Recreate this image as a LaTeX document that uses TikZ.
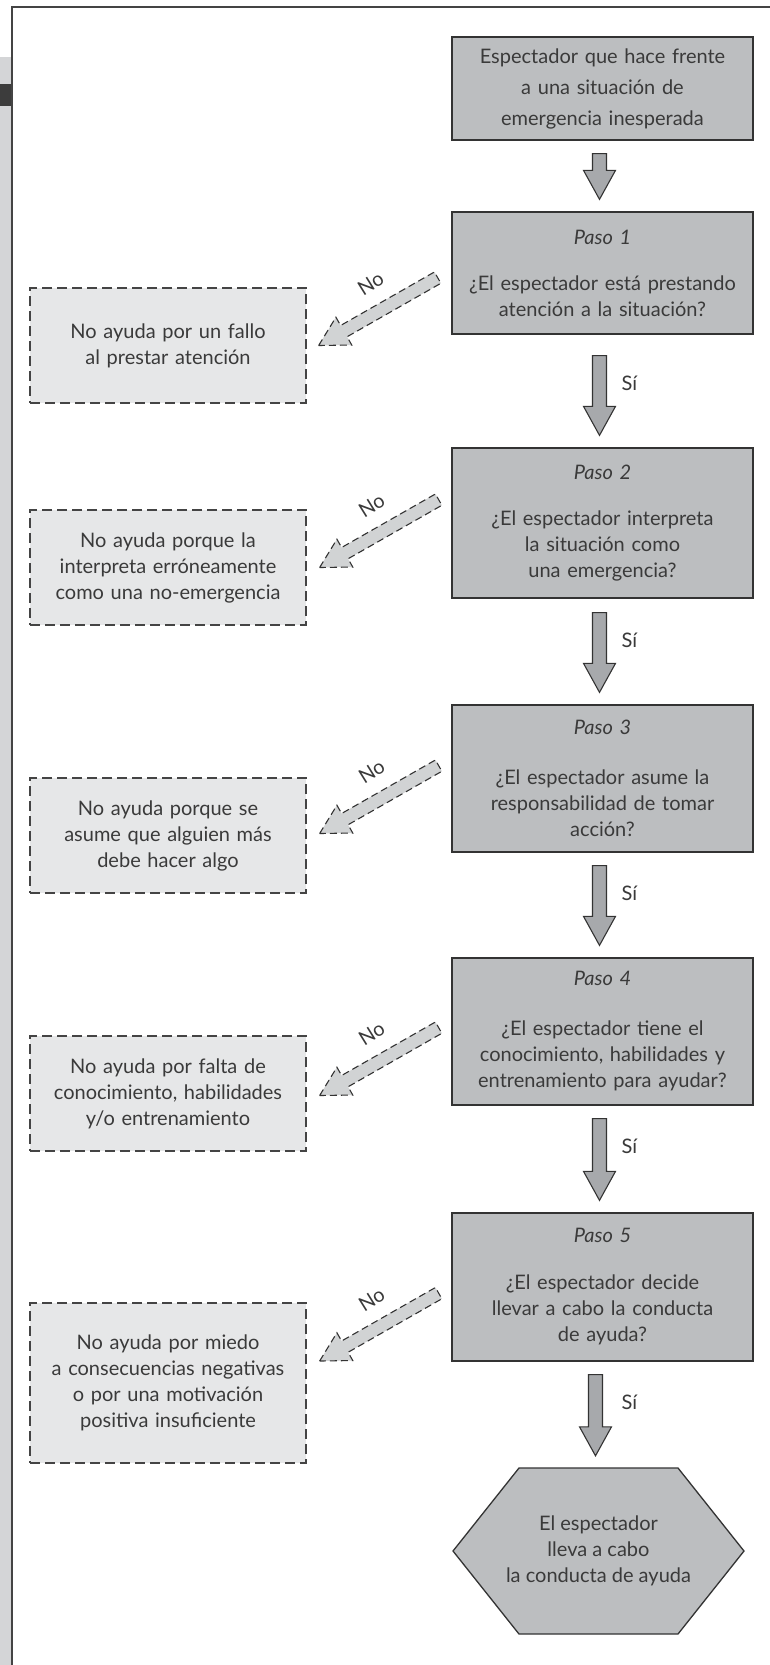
\documentclass[tikz,border=0pt]{standalone}
\usepackage{graphicx}
\usepackage{fontspec}
\setmainfont{Lato}
\usetikzlibrary{calc}
\definecolor{boxgray}{HTML}{BCBEC0}
\definecolor{edge}{HTML}{333333}
\definecolor{lightbox}{HTML}{E6E7E8}
\definecolor{noarrowfill}{HTML}{D1D3D4}
\definecolor{downfill}{HTML}{A7A9AC}
\definecolor{txt}{HTML}{3A3A3A}
\definecolor{stripgray}{HTML}{D4D5D7}
\definecolor{darkbar}{HTML}{3C3C3C}
\definecolor{framegray}{HTML}{444444}

\newcommand\fatdown[3]{%
  \draw[downar] let \p1=($(#1.south)+(0,#3)$), \p2=($(#2.north)+(0,-12)$) in
   (\x2-10pt,\y1) -- (\x2+4pt,\y1) -- (\x2+4pt,\y2+29pt) -- (\x2+13pt,\y2+29pt) -- (\x2-3pt,\y2) -- (\x2-19pt,\y2+29pt) -- (\x2-10pt,\y2+29pt) -- cycle;}

\newcommand\noarrow[2]{%
  \begin{scope}[shift={(#1)}, rotate=29.7]
    \draw[noar] (0pt,0pt) -- (29pt,16pt) -- (29pt,6.5pt) -- (137pt,6.5pt) -- (137pt,-6.5pt) -- (29pt,-6.5pt) -- (29pt,-16pt) -- cycle;
  \end{scope}
  \node[nolabel] (#2) at ($(#1)+(52,-62)$) {\rotatebox{32}{No}};}

\begin{document}
\begin{tikzpicture}[x=1pt,y=-1pt,
  every node/.style={text=txt, font=\fontsize{20}{26}\selectfont},
  stepbox/.style={draw=edge, line width=1.3pt, fill=boxgray, minimum width=301pt, inner sep=0pt, align=center, text width=296pt},
  failbox/.style={draw=framegray, dash pattern=on 10pt off 5pt, line width=1.3pt, fill=lightbox, minimum width=276pt, minimum height=115pt, inner sep=0pt, align=center, text width=270pt},
  hexedge/.style={draw=edge, line width=1.3pt, fill=boxgray, line join=miter},
  downar/.style={draw=edge, line width=1.1pt, fill=downfill, line join=miter},
  noar/.style={draw=edge, dash pattern=on 7pt off 4pt, line width=1.1pt, fill=noarrowfill},
  silabel/.style={anchor=west, inner sep=0pt},
  nolabel/.style={inner sep=0pt},
]
\useasboundingbox (0,0) rectangle (770,1665);
\fill[white] (0,0) rectangle (770,1665);

% left strip and frame
\fill[stripgray] (0,57) rectangle (11,1665);
\fill[darkbar] (0,84) rectangle (12,106);
\draw[framegray, line width=2pt] (770,7) -- (12,7) -- (12,1665);

% step boxes
\node[stepbox, minimum height=103pt, font=\fontsize{20}{31}\selectfont] (s0) at (602.5,88.5) {Espectador que hace frente\\a una situación de\\emergencia inesperada};
\node[stepbox, minimum height=122pt] (s1) at (602.5,273) {\textit{Paso 1}\\[20pt]¿El espectador está prestando\\atención a la situación?};
\node[stepbox, minimum height=150pt] (s2) at (602.5,523) {\textit{Paso 2}\\[20pt]¿El espectador interpreta\\la situación como\\una emergencia?};
\node[stepbox, minimum height=147pt] (s3) at (602.5,778.5) {\textit{Paso 3}\\[24pt]¿El espectador asume la\\responsabilidad de tomar\\acción?};
\node[stepbox, minimum height=147pt] (s4) at (602.5,1031.5) {\textit{Paso 4}\\[24pt]¿El espectador tiene el\\conocimiento, habilidades y\\entrenamiento para ayudar?};
\node[stepbox, minimum height=148pt] (s5) at (602.5,1287) {\textit{Paso 5}\\[21pt]¿El espectador decide\\llevar a cabo la conducta\\de ayuda?};

% final hexagon
\coordinate (hc) at (598.5,1551);
\draw[hexedge] ($(hc)+(-145.5,0)$) -- ($(hc)+(-79.5,-83)$) -- ($(hc)+(79.5,-83)$) -- ($(hc)+(145.5,0)$) -- ($(hc)+(79.5,83)$) -- ($(hc)+(-79.5,83)$) -- cycle;
\node[align=center, minimum width=291pt, minimum height=166pt, inner sep=0pt] (hex) at (hc) {El espectador\\lleva a cabo\\la conducta de ayuda};

% failure boxes
\node[failbox] (f1) at (168,345.5) {No ayuda por un fallo\\al prestar atención};
\node[failbox] (f2) at (168,567.5) {No ayuda porque la\\interpreta erróneamente\\como una no-emergencia};
\node[failbox] (f3) at (168,835.5) {No ayuda porque se\\asume que alguien más\\debe hacer algo};
\node[failbox] (f4) at (168,1093.5) {No ayuda por falta de\\conocimiento, habilidades\\y/o entrenamiento};
\node[failbox, minimum height=160pt] (f5) at (168,1383) {No ayuda por miedo\\a consecuencias negativas\\o por una motivación\\positiva insuficiente};

% yes arrows
\fatdown{s0}{s1}{13}
\fatdown{s1}{s2}{21}
\fatdown{s2}{s3}{14}
\fatdown{s3}{s4}{13}
\fatdown{s4}{s5}{13}
\fatdown{s5}{hex}{13}

\node[silabel] (si1) at ($(s1.south)+(19,49)$) {Sí};
\node[silabel] (si2) at ($(s2.south)+(19,42)$) {Sí};
\node[silabel] (si3) at ($(s3.south)+(19,41)$) {Sí};
\node[silabel] (si4) at ($(s4.south)+(19,41)$) {Sí};
\node[silabel] (si5) at ($(s5.south)+(19,41)$) {Sí};

% no arrows
\coordinate (t1) at ($(f1.east)+(12,0)$);
\coordinate (t2) at ($(f2.east)+(13,0)$);
\coordinate (t3) at ($(f3.east)+(13,-2)$);
\coordinate (t4) at ($(f4.east)+(13,2)$);
\coordinate (t5) at ($(f5.east)+(13,-22)$);
\noarrow{t1}{no1}
\noarrow{t2}{no2}
\noarrow{t3}{no3}
\noarrow{t4}{no4}
\noarrow{t5}{no5}
\end{tikzpicture}
\end{document}
